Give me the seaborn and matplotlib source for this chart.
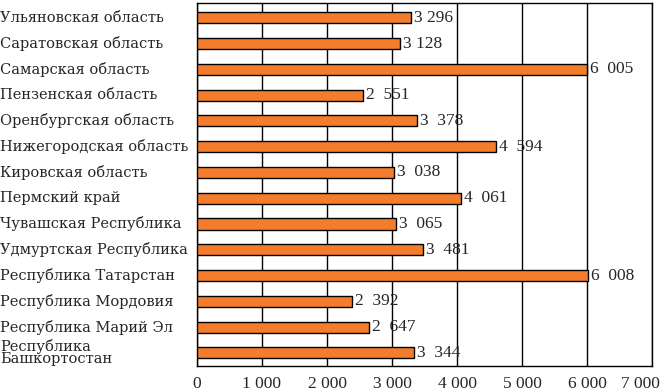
import numpy as np
import pandas as pd
import matplotlib
matplotlib.use('Agg')
import matplotlib.pyplot as plt
import matplotlib.transforms as mtransforms
import seaborn as sns

# data
regions = ['Ульяновская область', 'Саратовская область', 'Самарская область',
           'Пензенская область', 'Оренбургская область', 'Нижегородская область',
           'Кировская область', 'Пермский край', 'Чувашская Республика',
           'Удмуртская Республика', 'Республика Татарстан', 'Республика Мордовия',
           'Республика Марий Эл', 'Республика\nБашкортостан']
values = [3296, 3128, 6005, 2551, 3378, 4594, 3038, 4061, 3065, 3481, 6008, 2392, 2647, 3344]
value_labels = ['3 296', '3 128', '6  005', '2  551', '3  378', '4  594', '3  038',
                '4  061', '3  065', '3  481', '6  008', '2  392', '2  647', '3  344']
xticks = [0, 1000, 2000, 3000, 4000, 5000, 6000, 7000]
xtick_labels = ['0', '1 000', '2 000', '3 000', '4 000', '5 000', '6 000', '7 000']

df = pd.DataFrame({'region': regions, 'value': values})

sns.set_style('white')
plt.rcParams['font.family'] = ['Liberation Serif', 'DejaVu Serif']

fig = plt.figure(figsize=(6.61, 3.91), dpi=100)
ax = fig.add_axes([0.298, 0.0647, 0.6885, 0.9284])

sns.barplot(data=df, x='value', y='region', orient='h', color='#f37d2d',
            edgecolor='black', linewidth=1.0, width=0.43, saturation=1, ax=ax, zorder=3)

ax.set_xlim(0, 7000)
ax.set_ylim(13.5, -0.586)
ax.set_xticks(xticks)
# last label drawn separately so it can be nudged inside the figure
ax.set_xticklabels(xtick_labels[:-1] + [''], fontsize=12.5)
ax.tick_params(axis='x', length=0, pad=7.5)
off = mtransforms.ScaledTranslation(8 / 100, -7.3 / 72, fig.dpi_scale_trans)
ax.text(xticks[-1], 0, xtick_labels[-1], fontsize=12.5, ha='right', va='top',
        transform=ax.get_xaxis_transform() + off)
ax.set_yticks([])
ax.set_xlabel('')
ax.set_ylabel('')
ax.grid(axis='x', color='black', linewidth=1.0, zorder=0)
ax.set_axisbelow(True)
for s in ax.spines.values():
    s.set_color('black')
    s.set_linewidth(1.0)

# category labels, left aligned at the figure edge
trans = mtransforms.blended_transform_factory(fig.transFigure, ax.transData)
for i, name in enumerate(regions):
    ax.text(0.0, i, name, transform=trans, ha='left', va='center',
            fontsize=10.5, family='DejaVu Serif', linespacing=0.85)

# value labels after bar ends
for i, (v, lab) in enumerate(zip(values, value_labels)):
    ax.text(v + 45, i, lab, ha='left', va='center', fontsize=12.5, zorder=4)

fig.savefig('out.png', dpi=100)
